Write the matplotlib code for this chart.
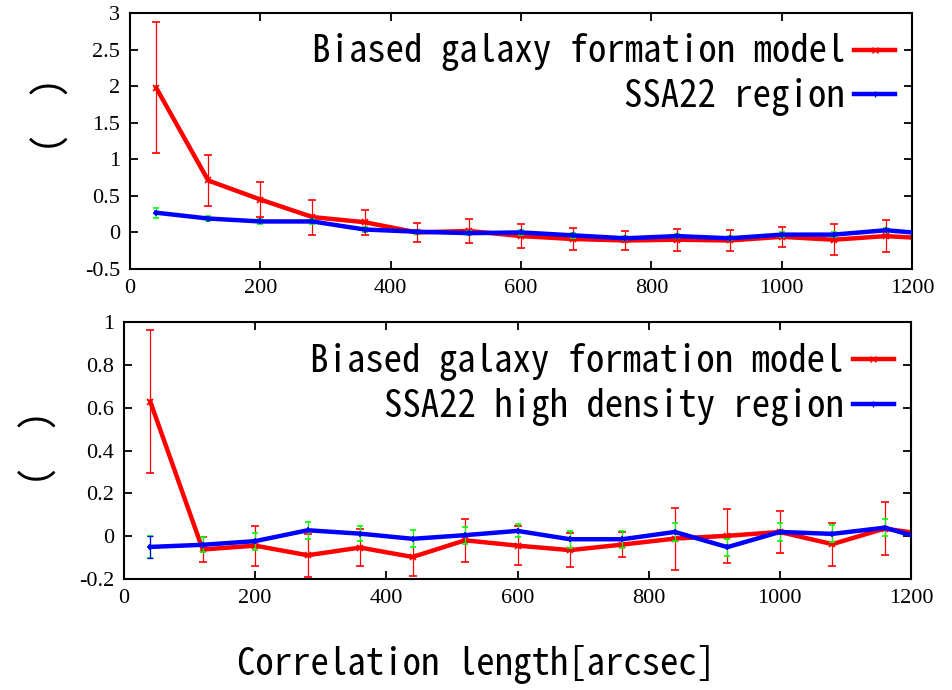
import numpy as np
import matplotlib
matplotlib.use("Agg")
import matplotlib.pyplot as plt
from matplotlib.lines import Line2D

# angular separation bins [arcsec] (last bin runs past the plotted range)
theta = [40, 120, 200, 280, 360, 440, 520, 600, 680, 760, 840, 920, 1000, 1080, 1160, 1240]

# top panel: model vs whole SSA22 field
model_top = [1.98, 0.71, 0.45, 0.21, 0.14, 0.0, 0.02, -0.05, -0.09, -0.11, -0.10, -0.11, -0.06, -0.10, -0.05, -0.09]
model_top_err = [0.90, 0.35, 0.24, 0.24, 0.17, 0.13, 0.17, 0.16, 0.15, 0.13, 0.15, 0.14, 0.14, 0.21, 0.22, 0.15]
ssa_top = [0.27, 0.19, 0.15, 0.15, 0.04, 0.01, -0.01, 0.0, -0.04, -0.08, -0.05, -0.08, -0.03, -0.03, 0.03, -0.03]
ssa_top_err = [0.07, 0.03, 0.03, 0.03, 0.03, 0.03, 0.03, 0.03, 0.03, 0.03, 0.03, 0.03, 0.03, 0.03, 0.03, 0.03]

# bottom panel: model vs SSA22 high density region
model_bot = [0.63, -0.062, -0.044, -0.089, -0.053, -0.097, -0.019, -0.044, -0.065, -0.039, -0.011, 0.002, 0.02, -0.037, 0.036, 0.0]
model_bot_err = [0.335, 0.057, 0.093, 0.10, 0.085, 0.09, 0.10, 0.09, 0.08, 0.06, 0.145, 0.125, 0.10, 0.10, 0.125, 0.1]
ssa_bot = [-0.05, -0.04, -0.023, 0.028, 0.012, -0.012, 0.005, 0.025, -0.014, -0.014, 0.02, -0.051, 0.02, 0.011, 0.04, -0.03]
ssa_bot_err = [0.05, 0.035, 0.04, 0.04, 0.035, 0.04, 0.04, 0.03, 0.04, 0.04, 0.04, 0.04, 0.04, 0.04, 0.04, 0.04]

mono = ["Noto Sans Mono CJK JP", "DejaVu Sans Mono"]
big = 26.5
plt.rcParams["font.family"] = ["Liberation Serif", "DejaVu Serif"]
plt.rcParams["font.size"] = 16

fig = plt.figure(figsize=(9.52, 6.9), dpi=100)
ax1 = fig.add_axes([130 / 952, 1 - 269 / 690, 782 / 952, 256 / 690])
ax2 = fig.add_axes([124 / 952, 1 - 579 / 690, 787 / 952, 256.6 / 690])


def draw(ax, model, model_err, ssa, ssa_err, ssa_label):
    ax.errorbar(theta, model, yerr=model_err, color="#ff0000", lw=3.2, marker="x", ms=4, mew=1.2,
                ecolor="#ff0000", elinewidth=0.9, capsize=3, capthick=0.9, zorder=2)
    ax.errorbar(theta, ssa, yerr=ssa_err, color="#0000ff", lw=3.2, marker="+", ms=5, mew=1.2,
                ecolor="#00ff00", elinewidth=0.9, capsize=2, capthick=0.9, zorder=3)
    handles = [Line2D([], [], color="#ff0000", lw=3.2, marker="x", ms=4),
               Line2D([], [], color="#0000ff", lw=3.2, marker="+", ms=5)]
    ax.legend(handles, ["Biased galaxy formation model", ssa_label], loc="upper right",
              bbox_to_anchor=(0.978, 0.92), borderaxespad=0, borderpad=0, frameon=False,
              markerfirst=False, handlelength=1.1, handletextpad=0.25, labelspacing=0.18,
              prop={"family": mono, "size": big})
    ax.set_xlim(0, 1200)
    ax.set_xticks(np.arange(0, 1201, 200))
    ax.tick_params(direction="in", top=True, right=True, length=6, width=1.3, pad=7)
    for s in ax.spines.values():
        s.set_linewidth(1.5)


draw(ax1, model_top, model_top_err, ssa_top, ssa_top_err, "SSA22 region")
ax1.set_ylim(-0.5, 3)
ax1.set_yticks(np.arange(-0.5, 3.01, 0.5))
ax1.set_yticklabels(["-0.5", "0", "0.5", "1", "1.5", "2", "2.5", "3"])

draw(ax2, model_bot, model_bot_err, ssa_bot, ssa_bot_err, "SSA22 high density region")
# first high-density bin has its own dashed blue error bar
ax2.errorbar(theta[:1], ssa_bot[:1], yerr=ssa_bot_err[:1], fmt="none", ecolor="#0000ff",
             elinewidth=0.9, capsize=2, capthick=0.9, ls="--", zorder=4)
ax2.set_ylim(-0.2, 1)
ax2.set_yticks(np.arange(-0.2, 1.01, 0.2))
ax2.set_yticklabels(["-0.2", "0", "0.2", "0.4", "0.6", "0.8", "1"])

fig.text(50 / 952, 1 - 115 / 690, "(  )", rotation=90, ha="center", va="center",
         family=mono, size=big)
fig.text(38 / 952, 1 - 448 / 690, "(  )", rotation=90, ha="center", va="center",
         family=mono, size=big)
fig.text(0.5, 1 - 665 / 690, "Correlation length[arcsec]", ha="center", va="center",
         family=mono, size=big)

fig.savefig("out.png", dpi=100)
